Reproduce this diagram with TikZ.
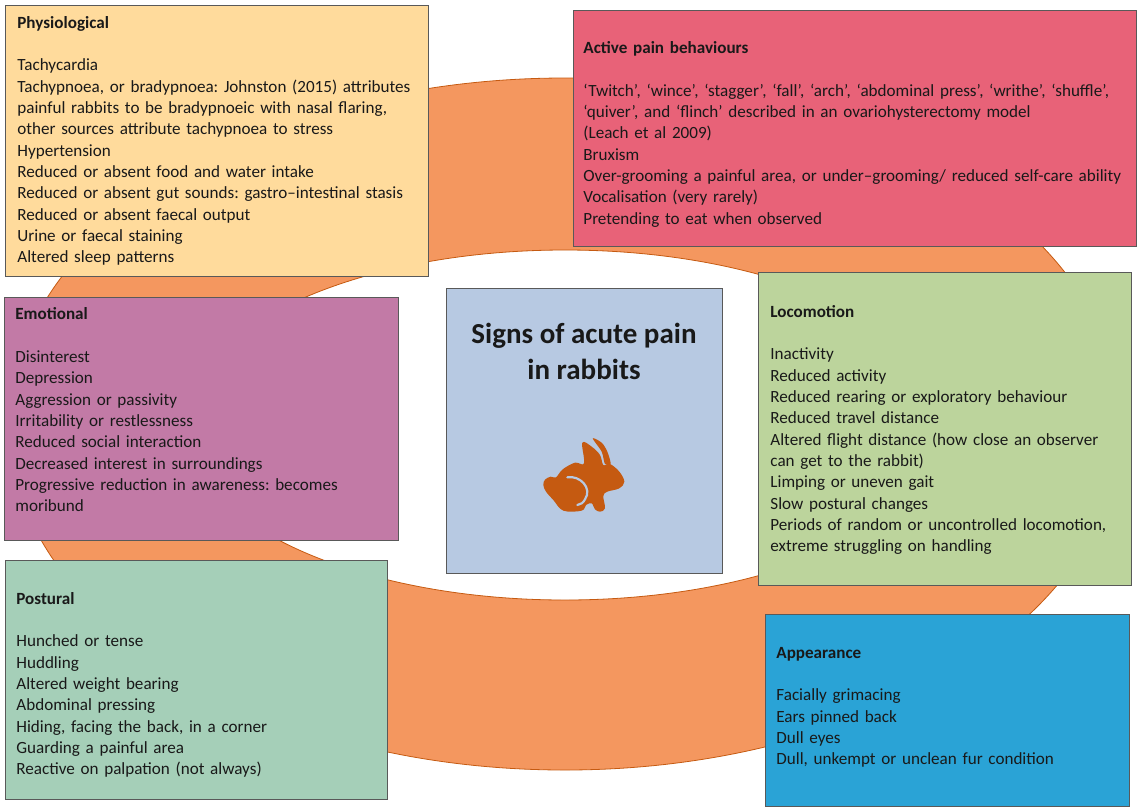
\documentclass[tikz,border=0pt]{standalone}
\usepackage{fontspec}
\setmainfont{Carlito}
\usepackage{xcolor}
\definecolor{ringfill}{HTML}{F4975F}
\definecolor{ringline}{HTML}{C55A11}
\definecolor{physiofill}{HTML}{FFDB9C}
\definecolor{activefill}{HTML}{E86278}
\definecolor{emotionfill}{HTML}{C27AA6}
\definecolor{locofill}{HTML}{BCD49C}
\definecolor{signsfill}{HTML}{B7C9E2}
\definecolor{posturefill}{HTML}{A5CFB8}
\definecolor{lookfill}{HTML}{2AA3D6}
\frenchspacing
\tikzset{
  painbox/.style={draw=black!65, line width=0.8pt, rectangle, anchor=north west, align=left,
    inner xsep=11pt, inner ysep=0pt, text=black!90,
    font=\fontsize{17.1}{21.35}\selectfont},
  signstitle/.style={align=center, text=black!90, font=\fontsize{29}{36}\selectfont\bfseries}
}
\begin{document}
\begin{tikzpicture}[x=1pt,y=-1pt]
          \useasboundingbox (0,0) rectangle (1139,809);
          \draw[fill=ringfill, draw=ringline, line width=0.8pt, even odd rule]
            (565,424) ellipse [x radius=556pt, y radius=346pt]
            (565,425) ellipse [x radius=380pt, y radius=175pt];
          \node[painbox, fill=physiofill, inner xsep=12pt, minimum width=423pt, minimum height=271pt, text width=399pt] (physio) at (5,5) {\textbf{Physiological}\\[21.35pt]
            Tachycardia\\
            Tachypnoea, or bradypnoea: Johnston (2015) attributes\\
            painful rabbits to be bradypnoeic with nasal flaring,\\
            other sources attribute tachypnoea to stress\\
            Hypertension\\
            Reduced or absent food and water intake\\
            Reduced or absent gut sounds: gastro–intestinal stasis\\
            Reduced or absent faecal output\\
            Urine or faecal staining\\
            Altered sleep patterns};
          \node[painbox, fill=activefill, inner xsep=10pt, minimum width=563pt, minimum height=236pt, text width=543pt] (active) at (573,10) {\rule{0pt}{24pt}\textbf{Active pain behaviours}\\[21.35pt]
            ‘Twitch’, ‘wince’, ‘stagger’, ‘fall’, ‘arch’, ‘abdominal press’, ‘writhe’, ‘shuffle’,\\
            ‘quiver’, and ‘flinch’ described in an ovariohysterectomy model\\
            (Leach et al 2009)\\
            Bruxism\\
            Over-grooming a painful area, or under–grooming/ reduced self-care ability\\
            Vocalisation (very rarely)\\
            Pretending to eat when observed};
          \node[painbox, fill=emotionfill, minimum width=394pt, minimum height=243pt, text width=372pt] (emotion) at (4,297) {\textbf{Emotional}\\[21.35pt]
            Disinterest\\
            Depression\\
            Aggression or passivity\\
            Irritability or restlessness\\
            Reduced social interaction\\
            Decreased interest in surroundings\\
            Progressive reduction in awareness: becomes\\
            moribund\par\vspace*{18pt}};
          \node[painbox, fill=locofill, inner xsep=12pt, minimum width=373pt, minimum height=313pt, text width=349pt] (loco) at (758,272) {\rule{0pt}{14pt}\textbf{Locomotion}\\[21.35pt]
            Inactivity\\
            Reduced activity\\
            Reduced rearing or exploratory behaviour\\
            Reduced travel distance\\
            Altered flight distance (how close an observer\\
            can get to the rabbit)\\
            Limping or uneven gait\\
            Slow postural changes\\
            Periods of random or uncontrolled locomotion,\\
            extreme struggling on handling};
          \node[painbox, fill=posturefill, minimum width=382pt, minimum height=239pt, text width=360pt] (posture) at (5,560) {\rule{0pt}{22pt}\textbf{Postural}\\[21.35pt]
            Hunched or tense\\
            Huddling\\
            Altered weight bearing\\
            Abdominal pressing\\
            Hiding, facing the back, in a corner\\
            Guarding a painful area\\
            Reactive on palpation (not always)};
          \node[painbox, fill=lookfill, minimum width=364pt, minimum height=192pt, text width=342pt] (look) at (765,614) {\textbf{Appearance}\\[21.35pt]
            Facially grimacing\\
            Ears pinned back\\
            Dull eyes\\
            Dull, unkempt or unclean fur condition\par\vspace*{6pt}};
          \node[painbox, fill=signsfill, minimum width=276pt, minimum height=285pt, text width=254pt] (signs) at (446,288) {};
          \node[signstitle] (signstext) at (584,351) {Signs of acute pain\\in rabbits};
          \begin{scope}[shift={(520,420)},x=0.3333pt,y=-0.3333pt]
            \fill[ringline] plot[smooth cycle, tension=0.6] coordinates {(70,195) (75,179) (92,170) (108,172) (128,148) (165,128) (192,130) (187,68) (215,80) (240,105) (250,135) (270,132) (298,155) (313,185) (298,205) (262,215) (250,228) (255,265) (240,275) (225,268) (215,250) (198,255) (185,272) (130,272) (100,240) (78,215)};
            \fill[ringline] plot[smooth cycle, tension=0.5] coordinates {(218,55) (245,68) (262,95) (272,132) (255,132) (245,95)};
            \draw[signsfill, line width=2.2pt, line cap=round] (142,172) .. controls (180,165) and (218,205) .. (195,238) .. controls (190,248) and (182,254) .. (172,255);
          \end{scope}
        \end{tikzpicture}
\end{document}
